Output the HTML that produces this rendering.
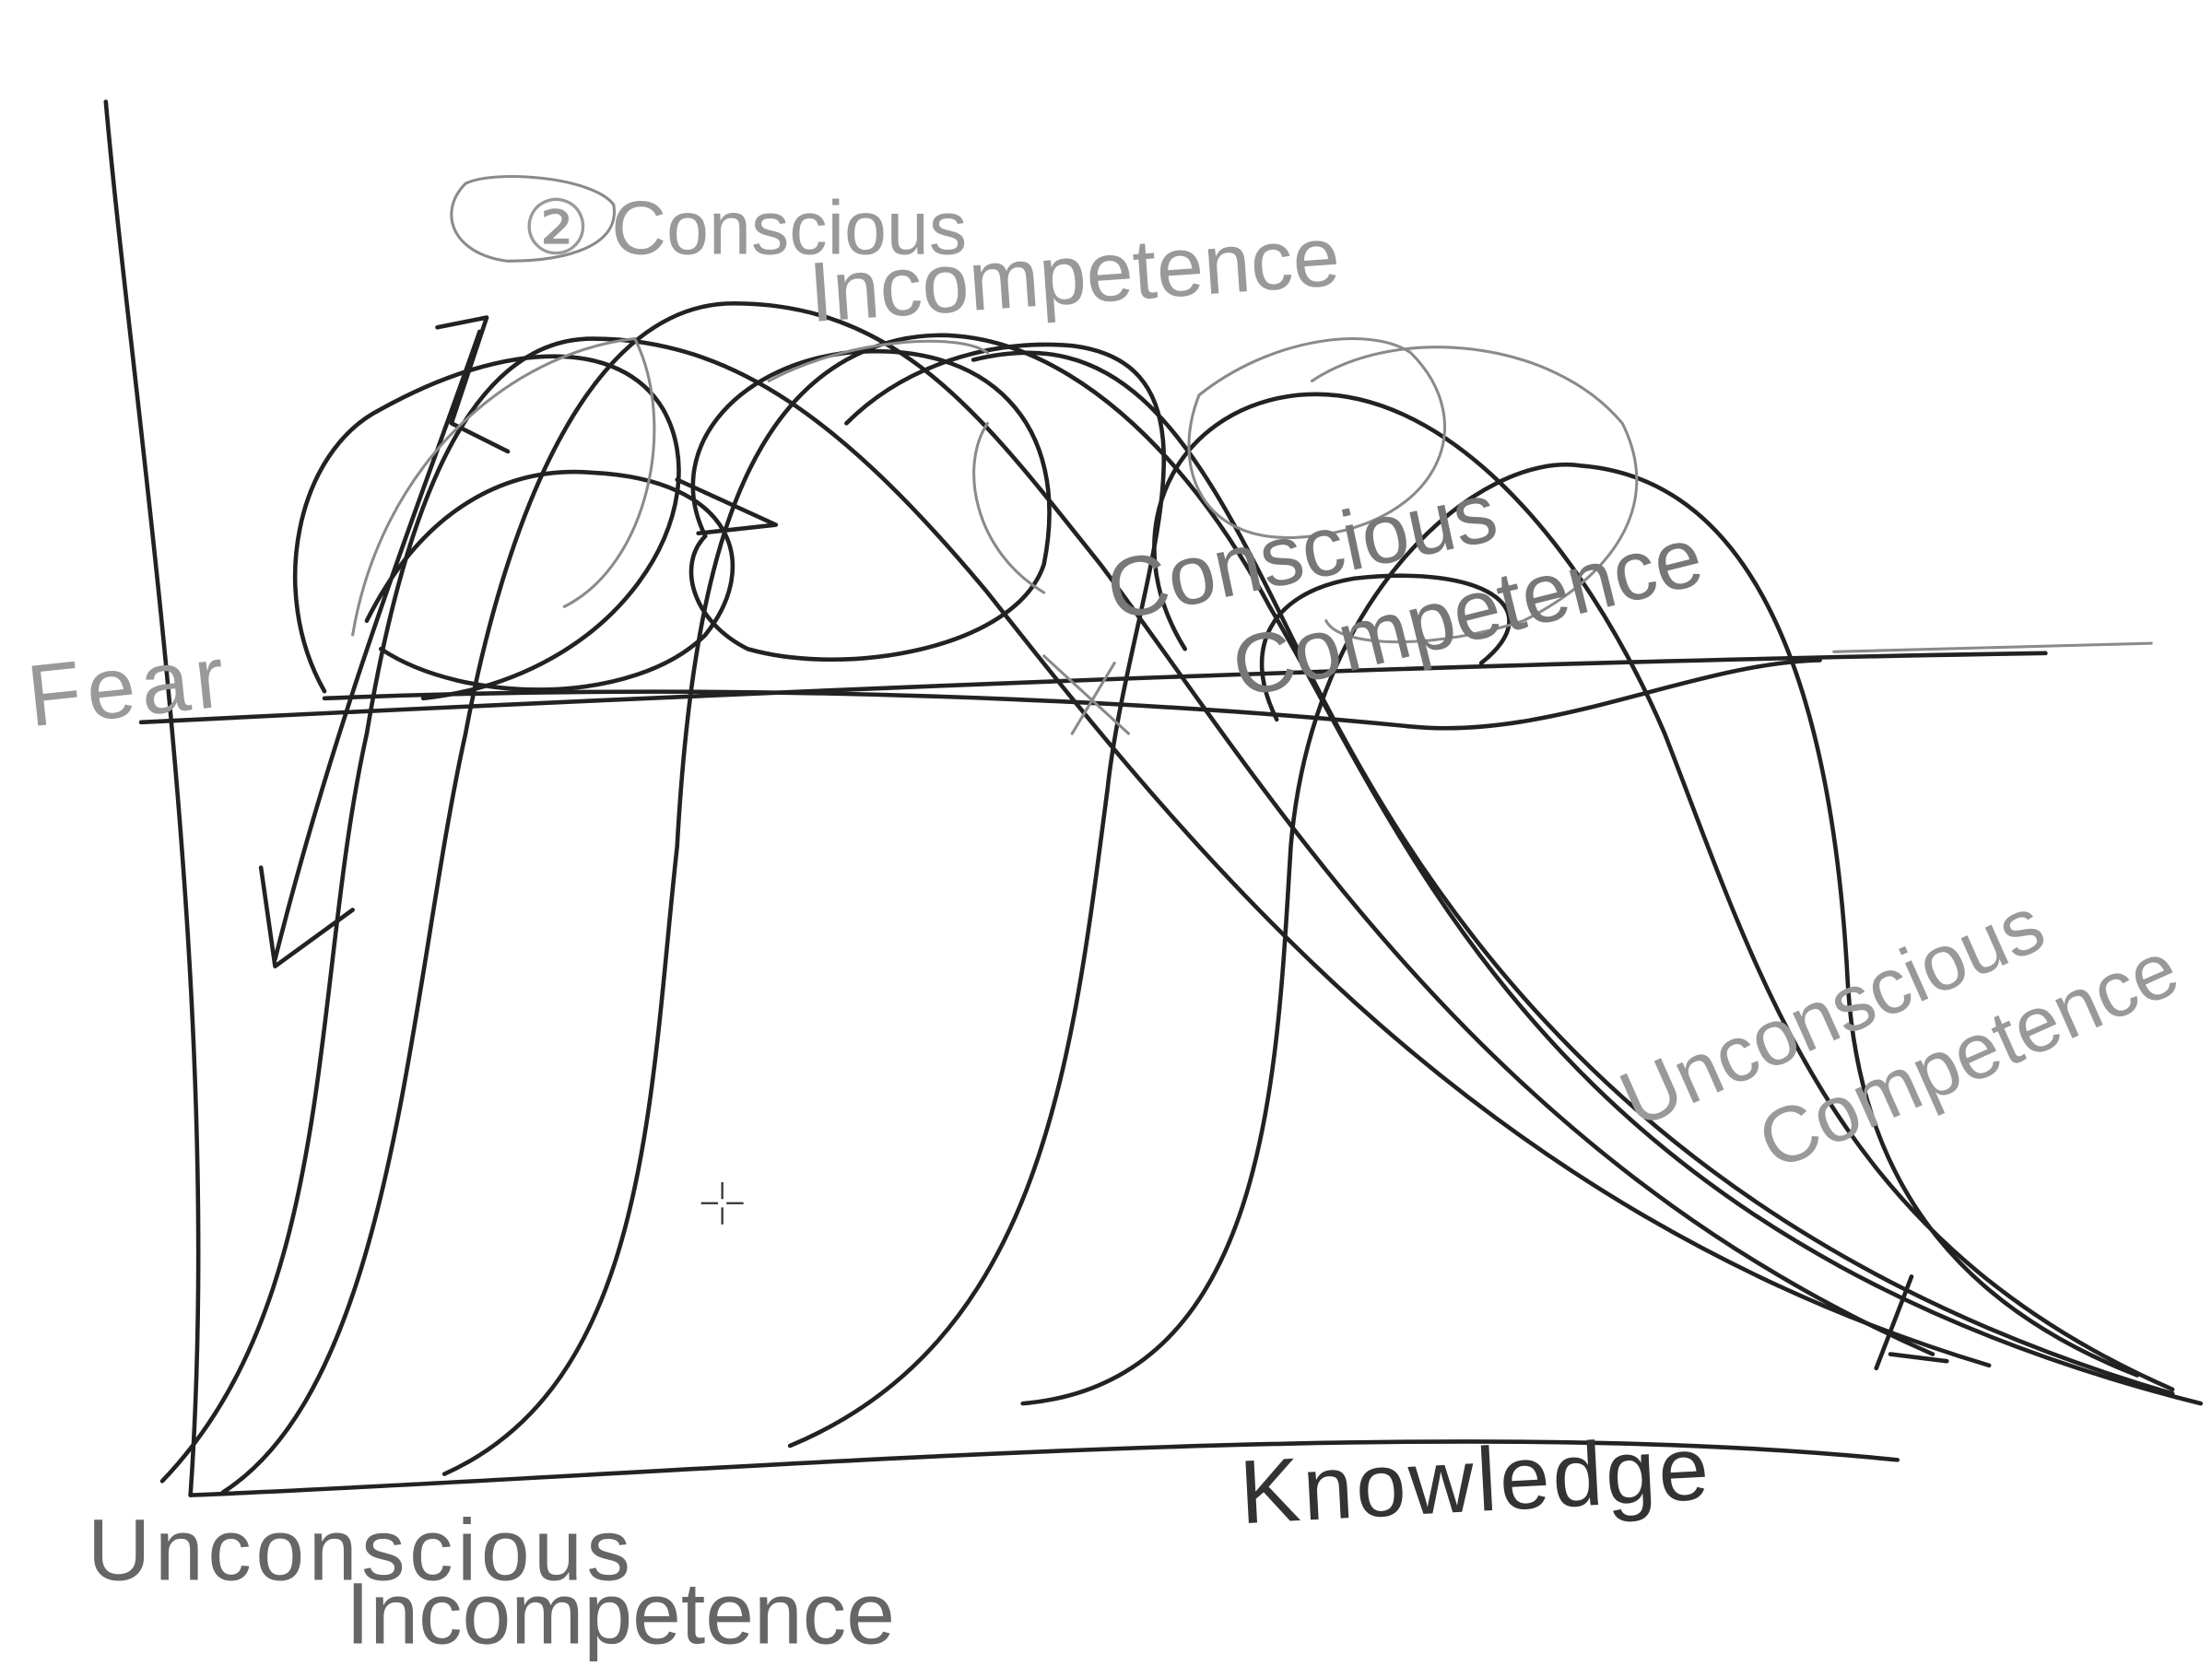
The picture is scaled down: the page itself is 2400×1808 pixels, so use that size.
<!DOCTYPE html>
<html><head><meta charset="utf-8">
<style>
html,body{margin:0;padding:0;background:#fff;}
svg{display:block;}
.k{fill:none;stroke:#222;stroke-width:3;stroke-linecap:round;stroke-linejoin:round;}
.g{fill:none;stroke:#8a8a8a;stroke-width:2;stroke-linecap:round;}
text{font-family:"Liberation Sans",sans-serif;}
</style></head>
<body>
<svg width="2400" height="1808" viewBox="0 0 1568 1181" xmlns="http://www.w3.org/2000/svg">
<rect width="1568" height="1181" fill="#fff"/>
<path class="k" d="M75,72 C95,300 160,700 135,1060"/>
<path class="k" d="M135,1060 C500,1045 1000,1000 1345,1035"/>
<path class="k" d="M100,512 C500,492 1000,470 1450,463"/>
<path class="g" d="M1300,462 L1525,456"/>
<path class="k" d="M230,495 C600,480 900,505 1000,515 C1100,525 1200,470 1290,468"/>
<path class="k" d="M115,1050 C240,920 220,700 260,520 C290,340 340,240 420,240 C520,240 600,300 700,420 C850,610 1050,860 1410,968"/>
<path class="k" d="M158,1058 C280,980 290,700 330,520 C360,360 420,215 520,215 C640,215 700,300 780,400 C900,560 1050,820 1370,960"/>
<path class="k" d="M315,1045 C460,980 460,780 480,600 C490,420 520,300 600,255 C700,200 820,280 900,430 C1000,600 1100,880 1560,995"/>
<path class="k" d="M560,1025 C740,950 760,750 785,560 C800,420 880,260 760,245 C700,240 640,260 600,300"/>
<path class="k" d="M690,255 C790,230 840,300 900,420 C970,560 1100,860 1540,988"/>
<path class="k" d="M725,995 C900,980 905,760 915,600 C930,420 1050,320 1120,330 C1250,340 1300,500 1310,700 C1320,850 1400,930 1515,975"/>
<path class="k" d="M840,460 C790,380 830,290 920,280 C1020,270 1120,380 1180,520 C1250,700 1300,880 1540,985"/>
<path class="k" d="M230,490 C190,420 210,320 270,290 C360,240 440,240 470,290 C510,360 440,480 300,495"/>
<path class="k" d="M260,440 C300,360 360,330 420,335 C520,340 540,400 500,450 C450,500 330,500 270,460"/>
<path class="k" d="M500,380 C470,320 520,260 600,250 C700,240 760,300 740,400 C720,460 600,480 530,460 C490,440 480,400 500,380"/>
<path class="k" d="M480,340 L550,372 L495,378"/>
<path class="k" d="M310,232 L345,225 L320,300 L360,320"/>
<path class="k" d="M340,235 C300,350 240,500 195,680"/>
<path class="k" d="M185,615 L195,685 L250,645"/>
<path class="k" d="M1355,905 L1330,970 M1340,960 L1380,965"/>
<path class="k" d="M905,510 C880,460 900,420 960,410 C1050,400 1100,430 1050,470"/>
<path class="g" d="M250,450 C270,330 360,250 450,240 C480,300 460,400 400,430"/>
<path class="g" d="M545,270 C600,240 680,235 700,250 M700,300 C680,330 690,390 740,420"/>
<path class="g" d="M850,280 C900,240 970,230 1000,250 C1050,300 1020,370 930,380 C850,390 830,330 850,280"/>
<path class="g" d="M930,270 C990,230 1100,240 1150,300 C1180,360 1140,410 1080,440 C1020,460 950,460 940,440"/>
<path class="g" d="M740,465 L800,520 M760,520 L790,470"/>
<path class="g" d="M330,130 C350,120 420,125 435,145 C440,175 400,185 360,185 C320,180 310,150 330,130"/>
<text x="22" y="515" font-size="62" fill="#999" letter-spacing="4" transform="rotate(-6 22 515)">Fear</text>
<text x="370" y="180" font-size="54" fill="#999">② Conscious</text>
<text x="575" y="228" font-size="60" fill="#999" transform="rotate(-4 575 228)">Incompetence</text>
<text x="790" y="440" font-size="60" fill="#777" transform="rotate(-12 790 440)">Conscious</text>
<text x="880" y="495" font-size="60" fill="#777" transform="rotate(-14 880 495)">Competence</text>
<text x="1160" y="800" font-size="56" fill="#999" transform="rotate(-24 1160 800)">Unconscious</text>
<text x="1258" y="830" font-size="56" fill="#999" transform="rotate(-24 1258 830)">Competence</text>
<text x="62" y="1120" font-size="62" fill="#666" letter-spacing="3">Unconscious</text>
<text x="245" y="1165" font-size="62" fill="#666">Incompetence</text>
<text x="880" y="1080" font-size="64" fill="#333" letter-spacing="2" transform="rotate(-3 880 1080)">Knowledge</text>
<path d="M512,838 V850 M512,856 V868 M497,853 H509 M515,853 H527" stroke="#333" stroke-width="1.5"/>
</svg>
</body></html>
